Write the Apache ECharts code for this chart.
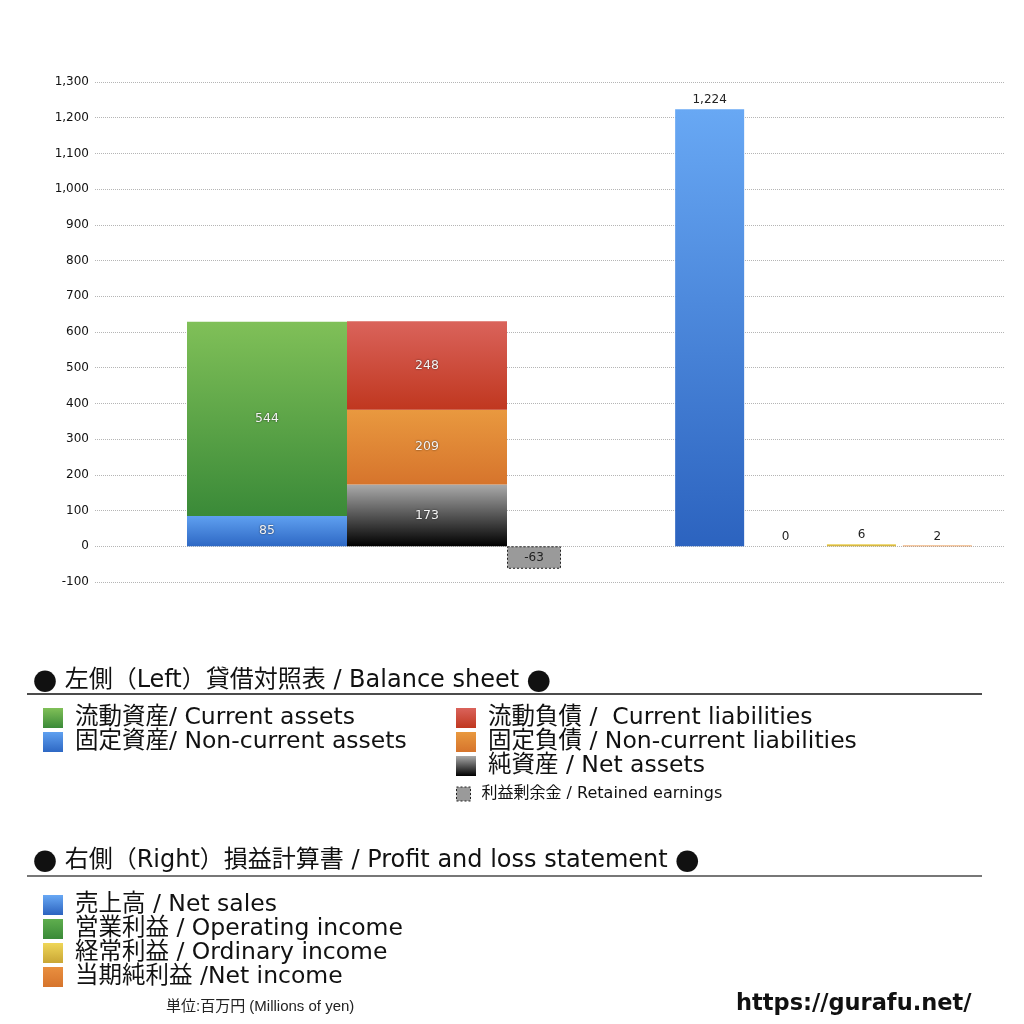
<!DOCTYPE html>
<html>
<head>
<meta charset="utf-8">
<script src="https://cdn.jsdelivr.net/npm/echarts@6/dist/echarts.min.js"></script>
<style>
html,body{margin:0;padding:0;background:#fff;}
#c{width:1024px;height:1024px;}
</style>
</head>
<body>
<div id="c"></div>
<script>
// ---- data ----
const yTicks = { min: -100, max: 1300, interval: 100 };
const bsCategory = ['貸借対照表'];
const plCategory = ['損益計算書'];
const nonCurrentAssets = [85];
const currentAssets = [544];
const netAssets = [173];
const nonCurrentLiabilities = [209];
const currentLiabilities = [248];
const retainedEarnings = [-63];
const netSales = [1224];
const operatingIncome = [0];
const ordinaryIncome = [6];
const netIncome = [2];

const names = {
  ca: '流動資産/ Current assets',
  nca: '固定資産/ Non-current assets',
  cl: '流動負債 /  Current liabilities',
  ncl: '固定負債 / Non-current liabilities',
  na: '純資産 / Net assets',
  re: '利益剰余金 / Retained earnings',
  ns: '売上高 / Net sales',
  oi: '営業利益 / Operating income',
  ordi: '経常利益 / Ordinary income',
  ni: '当期純利益 /Net income'
};

const FONT = '"DejaVu Sans", "Noto Sans CJK JP", sans-serif';
const CJK = '"Noto Sans CJK JP", sans-serif';
function grad(top, bottom) {
  return new echarts.graphic.LinearGradient(0, 0, 0, 1, [
    { offset: 0, color: top }, { offset: 1, color: bottom }
  ]);
}
const C = {
  green: grad('#80c058', '#3a8a38'),
  blue: grad('#5fa0f0', '#2e68c4'),
  red: grad('#da635b', '#c0371f'),
  orange: grad('#e9993f', '#d6742c'),
  black: grad('#aaaaaa', '#000000'),
  sales: grad('#68a8f4', '#2c63bf'),
  yellow: grad('#efd658', '#c9a635'),
  green2: grad('#5fae4e', '#3a8a38'),
  orange2: grad('#e98f3f', '#d6742c')
};
const innerLabel = {
  show: true, position: 'inside', fontSize: 12.5, fontFamily: FONT,
  color: '#f4f4f4', textShadowColor: 'rgba(0,0,0,0.7)', textShadowBlur: 2
};
const topLabel = {
  show: true, position: 'top', fontSize: 12, fontFamily: FONT, color: '#222', distance: 3,
  formatter: p => p.value.toLocaleString('en-US')
};
const yHidden = i => ({ type: 'value', gridIndex: i, min: yTicks.min, max: yTicks.max, interval: yTicks.interval, show: false, splitLine: { show: false } });
const gTop = 82, gH = 500;
const legendText = (size, lh, pad) => ({ fontSize: size, lineHeight: lh, color: '#111', fontFamily: FONT, padding: [0, 0, 0, pad] });
const headingRich = { c: { fontFamily: CJK, fontSize: 24, fill: '#111' } };

const chart = echarts.init(document.getElementById('c'));
chart.setOption({
  backgroundColor: '#fff',
  animation: false,
  grid: [
    { left: 95, top: gTop, width: 910, height: gH },
    { left: 187, top: gTop, width: 374, height: gH },
    { left: 675, top: gTop, width: 297, height: gH }
  ],
  xAxis: [
    { type: 'category', gridIndex: 0, data: [''], show: false },
    { type: 'category', gridIndex: 1, data: bsCategory, show: false },
    { type: 'category', gridIndex: 2, data: plCategory, show: false }
  ],
  yAxis: [
    {
      type: 'value', gridIndex: 0, min: yTicks.min, max: yTicks.max, interval: yTicks.interval,
      axisLine: { show: false }, axisTick: { show: false },
      axisLabel: { fontSize: 12, color: '#111', fontFamily: FONT, margin: 6, formatter: v => v.toLocaleString('en-US') },
      splitLine: { lineStyle: { type: 'dotted', color: '#b5b5b5', width: 1 } }
    },
    yHidden(1), yHidden(2)
  ],
  legend: [
    { data: [names.ca, names.nca], left: 38, top: 701, orient: 'vertical', icon: 'rect',
      itemWidth: 20, itemHeight: 20, itemGap: 0, selectedMode: false, textStyle: legendText(23.5, 24, 7) },
    { data: [names.cl, names.ncl, names.na], left: 451, top: 701, orient: 'vertical', icon: 'rect',
      itemWidth: 20, itemHeight: 20, itemGap: 0, selectedMode: false, textStyle: legendText(23.5, 24, 7) },
    { data: [{ name: names.re, itemStyle: { borderType: [2, 2], borderColor: '#222', borderWidth: 1 } }],
      left: 451, top: 780, orient: 'vertical', icon: 'rect',
      itemWidth: 14, itemHeight: 14, itemGap: 0, selectedMode: false, textStyle: legendText(16, 18, 6) },
    { data: [names.ns, names.oi, names.ordi, names.ni], left: 38, top: 888, orient: 'vertical', icon: 'rect',
      itemWidth: 20, itemHeight: 20, itemGap: 0, selectedMode: false, textStyle: legendText(23.5, 24, 7) }
  ],
  series: [
    { name: names.nca, type: 'bar', xAxisIndex: 1, yAxisIndex: 1, stack: 'assets', barWidth: 160, barGap: '0%',
      data: nonCurrentAssets, itemStyle: { color: C.blue }, label: innerLabel },
    { name: names.ca, type: 'bar', xAxisIndex: 1, yAxisIndex: 1, stack: 'assets', barWidth: 160, barGap: '0%',
      data: currentAssets, itemStyle: { color: C.green }, label: innerLabel },
    { name: names.na, type: 'bar', xAxisIndex: 1, yAxisIndex: 1, stack: 'liab', barWidth: 160, barGap: '0%',
      data: netAssets, itemStyle: { color: C.black }, label: innerLabel },
    { name: names.ncl, type: 'bar', xAxisIndex: 1, yAxisIndex: 1, stack: 'liab', barWidth: 160, barGap: '0%',
      data: nonCurrentLiabilities, itemStyle: { color: C.orange }, label: innerLabel },
    { name: names.cl, type: 'bar', xAxisIndex: 1, yAxisIndex: 1, stack: 'liab', barWidth: 160, barGap: '0%',
      data: currentLiabilities, itemStyle: { color: C.red }, label: innerLabel },
    { name: names.re, type: 'bar', xAxisIndex: 1, yAxisIndex: 1, barWidth: 54, barGap: '0%',
      data: retainedEarnings,
      itemStyle: { color: '#9a9a9a', borderColor: '#222', borderWidth: 1, borderType: [2, 2] },
      label: { show: true, position: 'inside', fontSize: 12, fontFamily: FONT, color: '#222' } },
    { name: names.ns, type: 'bar', xAxisIndex: 2, yAxisIndex: 2, barWidth: 69, barGap: '10%',
      data: netSales, itemStyle: { color: C.sales }, label: topLabel },
    { name: names.oi, type: 'bar', xAxisIndex: 2, yAxisIndex: 2, barWidth: 69, barGap: '10%',
      data: operatingIncome, itemStyle: { color: C.green2 }, label: topLabel },
    { name: names.ordi, type: 'bar', xAxisIndex: 2, yAxisIndex: 2, barWidth: 69, barGap: '10%',
      data: ordinaryIncome, itemStyle: { color: C.yellow }, label: topLabel },
    { name: names.ni, type: 'bar', xAxisIndex: 2, yAxisIndex: 2, barWidth: 69, barGap: '10%',
      data: netIncome, itemStyle: { color: C.orange2 }, label: topLabel }
  ],
  graphic: [
    { type: 'text', left: 33, top: 669, style: { text: '{c|●} 左側（Left）貸借対照表 / Balance sheet {c|●}', rich: headingRich, fontSize: 24, fontFamily: FONT, fill: '#111' } },
    { type: 'line', shape: { x1: 27, y1: 694, x2: 982, y2: 694 }, style: { stroke: '#111', lineWidth: 1.5 } },
    { type: 'text', left: 33, top: 849, style: { text: '{c|●} 右側（Right）損益計算書 / Profit and loss statement {c|●}', rich: headingRich, fontSize: 24, fontFamily: FONT, fill: '#111' } },
    { type: 'line', shape: { x1: 27, y1: 876, x2: 982, y2: 876 }, style: { stroke: '#777', lineWidth: 2 } },
    { type: 'text', left: 166, top: 999, style: { text: '単位:百万円 (Millions of yen)', fontSize: 15, fontFamily: '"Liberation Sans", "Noto Sans CJK JP", sans-serif', fill: '#222' } },
    { type: 'text', left: 736, top: 993, style: { text: 'https://gurafu.net/', fontSize: 22.5, fontWeight: 'bold', fontFamily: '"DejaVu Sans", sans-serif', fill: '#111' } }
  ]
});
</script>
</body>
</html>
